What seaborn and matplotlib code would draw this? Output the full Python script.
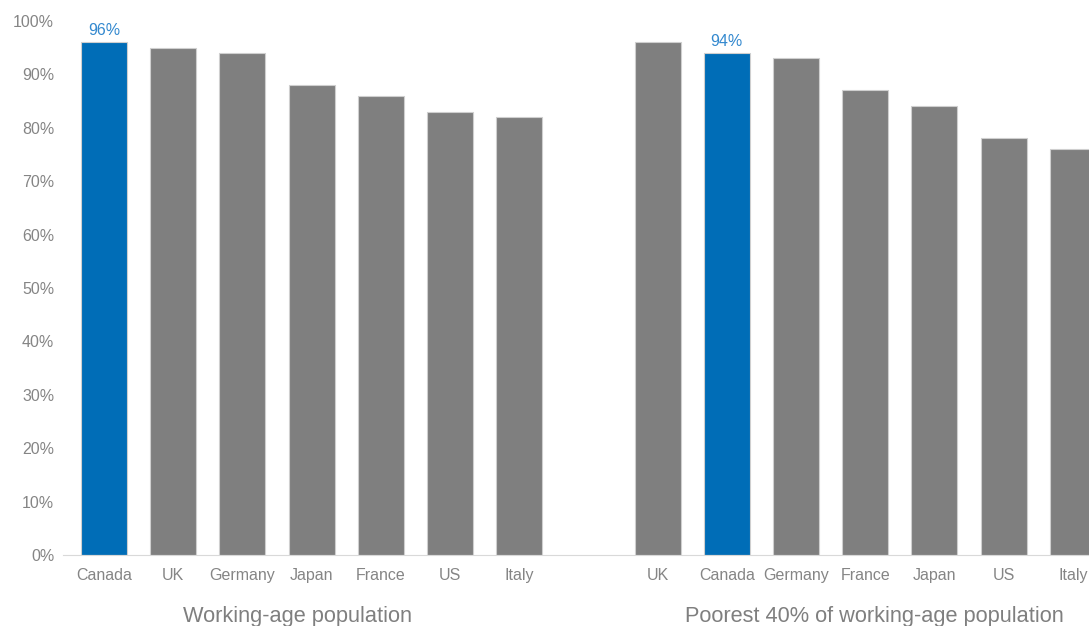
import matplotlib
matplotlib.use("Agg")
import matplotlib.pyplot as plt
import seaborn as sns
import pandas as pd

# ---- data ----
left_countries = ["Canada", "UK", "Germany", "Japan", "France", "US", "Italy"]
left_values = [96, 95, 94, 88, 86, 83, 82]
right_countries = ["UK", "Canada", "Germany", "France", "Japan", "US", "Italy"]
right_values = [96, 94, 93, 87, 84, 78, 76]
group_labels = ["Working-age population", "Poorest 40% of working-age population"]
y_ticks = [0, 10, 20, 30, 40, 50, 60, 70, 80, 90, 100]
highlight = "Canada"

sns.set_theme(style="white")
plt.rcParams["font.family"] = ["Liberation Sans", "DejaVu Sans"]

keys, cats, vals, hl = [], [], [], []
for c, v in zip(left_countries, left_values):
    keys.append("L_" + c); cats.append(c); vals.append(v); hl.append(c == highlight)
spacer = "gap"
for c, v in zip(right_countries, right_values):
    keys.append("R_" + c); cats.append(c); vals.append(v); hl.append(c == highlight)
df = pd.DataFrame({"key": keys, "country": cats, "value": vals,
                   "hl": ["yes" if h else "no" for h in hl]})
order = ["L_" + c for c in left_countries] + [spacer] + ["R_" + c for c in right_countries]
tick_labels = left_countries + [""] + right_countries

blue = "#006DB7"
gray = "#7F7F7F"

fig = plt.figure(figsize=(10.89, 6.26), dpi=100)
ax = fig.add_axes([62.5 / 1089, (626 - 555) / 626, (1107.4 - 62.5) / 1089, (555 - 21) / 626])

sns.barplot(data=df, x="key", y="value", hue="hl", order=order,
            palette={"yes": blue, "no": gray}, dodge=False, width=0.665,
            saturation=1, edgecolor="#CFCFCF", linewidth=0.8, legend=False, ax=ax)

ax.set_xlim(-0.6, len(order) - 0.5)
ax.set_ylim(0, 100)
ax.set_yticks(y_ticks)
ax.set_yticklabels([f"{t}%" for t in y_ticks])
ax.set_xticks(range(len(order)))
ax.set_xticklabels(tick_labels, va="baseline")
ax.tick_params(axis="both", length=0, labelsize=11.5, labelcolor="#858585")
ax.tick_params(axis="y", pad=6)
ax.tick_params(axis="x", pad=18)
ax.set_xlabel("")
ax.set_ylabel("")
for s in ["top", "right", "left"]:
    ax.spines[s].set_visible(False)
ax.spines["bottom"].set_color("#D9D9D9")
ax.spines["bottom"].set_linewidth(0.8)
ax.grid(False)

# data labels for highlighted bars
for i, k in enumerate(order):
    row = df[df["key"] == k]
    if len(row) and row["hl"].iloc[0] == "yes":
        v = row["value"].iloc[0]
        ax.annotate(f"{v}%", (i, v), xytext=(0, 3), textcoords="offset points",
                    ha="center", va="bottom", fontsize=11.5, color="#3489CF")

# group labels
ax.text(2.8, -11.5, group_labels[0], ha="center", va="center", fontsize=15.7,
        color="#7F7F7F", transform=ax.transData, clip_on=False)
ax.text(11.13, -11.5, group_labels[1], ha="center", va="center", fontsize=15.7,
        color="#7F7F7F", transform=ax.transData, clip_on=False)

fig.savefig("out.png", dpi=100)
